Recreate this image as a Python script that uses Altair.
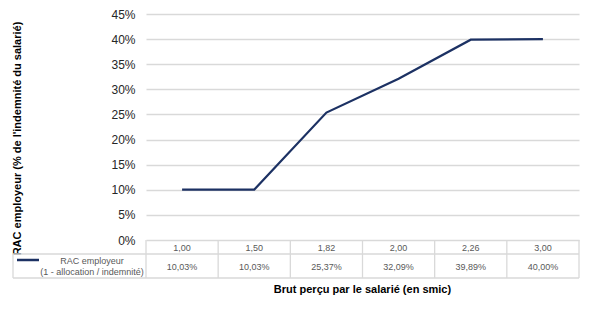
import altair as alt
import pandas as pd

# ---- data ----
categories = ["1,00", "1,50", "1,82", "2,00", "2,26", "3,00"]
values = [0.1003, 0.1003, 0.2537, 0.3209, 0.3989, 0.4000]
value_labels = ["10,03%", "10,03%", "25,37%", "32,09%", "39,89%", "40,00%"]
series_name = "RAC employeur"
series_note = "(1 - allocation / indemnité)"
y_ticks = [0, 0.05, 0.10, 0.15, 0.20, 0.25, 0.30, 0.35, 0.40, 0.45]
x_title = "Brut perçu par le salarié (en smic)"
y_title = "RAC employeur (% de l'indemnité du salarié)"

df = pd.DataFrame({
    "pos": [i + 0.5 for i in range(len(categories))],
    "cat": categories,
    "val": values,
    "lab": value_labels,
})
bounds = pd.DataFrame({"pos": list(range(len(categories) + 1))})

W, H = 433, 226
FONT = "Liberation Sans"
GRAY = "#595959"
GRID = "#d9d9d9"
NAVY = "#1c3163"
ROW1 = 14   # height of category row
ROW2 = 24   # height of value row
LEFT = -133  # left edge of legend cell (relative to plot)

xscale = alt.Scale(domain=[0, len(categories)], nice=False, zero=False)
yscale = alt.Scale(domain=[0, 0.45], nice=False)
xaxis = alt.Axis(title=x_title, labels=False, ticks=False, domain=False, grid=False,
                 titleFont=FONT, titleFontSize=11, titleFontWeight="bold",
                 titleColor="#000000", titleX=216, titleY=49,
                 titleAlign="center", titleBaseline="middle")

line = alt.Chart(df).mark_line(color=NAVY, strokeWidth=2.2).encode(
    x=alt.X("pos:Q", scale=xscale, axis=xaxis),
    y=alt.Y("val:Q", scale=yscale,
            axis=alt.Axis(values=y_ticks, format=".0%", labelFont=FONT, labelFontSize=12,
                          labelColor="#262626", domain=False, ticks=False, labelPadding=11,
                          grid=True, gridColor=GRID, gridWidth=1.3,
                          title=y_title, titleFont=FONT, titleFontSize=11,
                          titleFontWeight="bold", titleColor="#000000",
                          titleAngle=270, titleX=-129, titleY=124,
                          titleAlign="center", titleBaseline="middle")),
)

vrules = alt.Chart(bounds).mark_rule(color=GRID, strokeWidth=1.3).encode(
    x=alt.X("pos:Q", scale=xscale, axis=xaxis),
    y=alt.value(H), y2=alt.value(H + ROW1 + ROW2),
)

frame = pd.DataFrame({"k": [0]})
hrule1 = alt.Chart(frame).mark_rule(color=GRID, strokeWidth=1.3).encode(
    x=alt.value(LEFT), x2=alt.value(W), y=alt.value(H + ROW1))
hrule2 = alt.Chart(frame).mark_rule(color=GRID, strokeWidth=1.3).encode(
    x=alt.value(LEFT), x2=alt.value(W), y=alt.value(H + ROW1 + ROW2))
lrule = alt.Chart(frame).mark_rule(color=GRID, strokeWidth=1.3).encode(
    x=alt.value(LEFT), y=alt.value(H + ROW1), y2=alt.value(H + ROW1 + ROW2))

cat_text = alt.Chart(df).mark_text(font=FONT, fontSize=9, color=GRAY, baseline="middle").encode(
    x=alt.X("pos:Q", scale=xscale, axis=xaxis),
    y=alt.value(H + 7.5), text="cat:N")
val_text = alt.Chart(df).mark_text(font=FONT, fontSize=9, color=GRAY, baseline="middle").encode(
    x=alt.X("pos:Q", scale=xscale, axis=xaxis),
    y=alt.value(H + ROW1 + 12.5), text="lab:N")

legend_sym = alt.Chart(frame).mark_rule(color=NAVY, strokeWidth=2.5).encode(
    x=alt.value(-129), x2=alt.value(-107), y=alt.value(H + 20))
legend_df = pd.DataFrame({"t": [series_name, series_note], "yy": [H + 21, H + 32]})
legend_txt = alt.Chart(legend_df).mark_text(font=FONT, fontSize=9, color=GRAY,
                                             baseline="middle", align="center").encode(
    x=alt.value(-54), y=alt.Y("yy:Q", scale=None), text="t:N")

chart = alt.layer(
    vrules, hrule1, hrule2, lrule, line, cat_text, val_text, legend_sym, legend_txt
).properties(
    width=W, height=H,
    autosize=alt.AutoSizeParams(type="none"),
    padding={"left": 146, "top": 14, "right": 20, "bottom": 76},
    background="white",
).configure_view(stroke=None)

chart.save("out.html", embed_options={"renderer": "svg", "actions": False})
